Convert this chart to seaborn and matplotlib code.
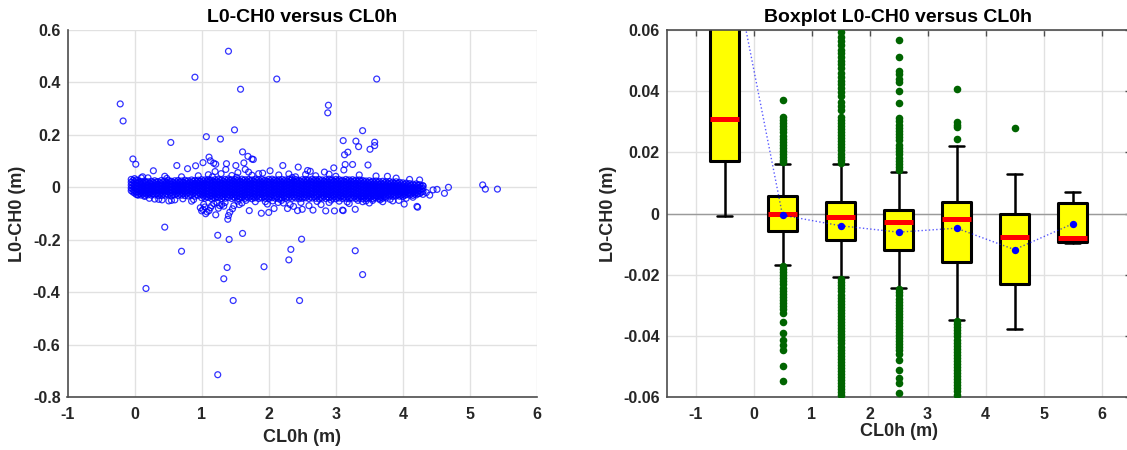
import numpy as np
import pandas as pd
import matplotlib
matplotlib.use("Agg")
import matplotlib.pyplot as plt
import seaborn as sns

# ---------------- Left panel data (CL0h, L0-CH0) ----------------
# dense central band: one column of readings per CL0h position (values in mm)
band_x = [-0.05, 0.00, 0.05, 0.10, 0.15, 0.20, 0.25, 0.30, 0.35, 0.40,
          0.45, 0.50, 0.55, 0.60, 0.65, 0.70, 0.75, 0.80, 0.85, 0.90,
          0.95, 1.00, 1.05, 1.10, 1.15, 1.20, 1.25, 1.30, 1.35, 1.40,
          1.45, 1.50, 1.55, 1.60, 1.65, 1.70, 1.75, 1.80, 1.85, 1.90,
          1.95, 2.00, 2.05, 2.10, 2.15, 2.20, 2.25, 2.30, 2.35, 2.40,
          2.45, 2.50, 2.55, 2.60, 2.65, 2.70, 2.75, 2.80, 2.85, 2.90,
          2.95, 3.00, 3.05, 3.10, 3.15, 3.20, 3.25, 3.30, 3.35, 3.40,
          3.45, 3.50, 3.55, 3.60, 3.65, 3.70, 3.75, 3.80, 3.85, 3.90,
          3.95, 4.00, 4.05, 4.10, 4.15, 4.20, 4.25, 4.30]
band_y_mm = [
    [30, 19, 8, -3, -13], [33, 21, 10, -1, -12, -22], [26, 15, 4, -7, -18, -28],
    [22, 12, 1, -10, -20, -30], [24, 13, 2, -9, -21, -31], [21, 10, 0, -11, -22, -29],
    [23, 12, 2, -8, -19, -30], [25, 15, 4, -7, -18, -29], [22, 11, 1, -10, -21, -31],
    [26, 14, 3, -8, -20, -32], [24, 13, 2, -9, -19, -30], [27, 16, 5, -6, -17, -28],
    [23, 12, 1, -10, -21, -33], [25, 14, 4, -7, -18, -29], [26, 15, 3, -9, -20, -31],
    [24, 13, 2, -8, -19, -30], [27, 16, 5, -6, -18, -32], [25, 14, 3, -9, -21, -33],
    [28, 17, 6, -5, -17, -29], [26, 15, 4, -8, -20, -34], [27, 16, 5, -7, -19, -31],
    [29, 18, 7, -5, -16, -28, -40], [28, 17, 5, -7, -19, -31, -42], [30, 19, 8, -4, -15, -27, -39],
    [27, 16, 4, -8, -20, -32, -44], [29, 18, 6, -6, -18, -30, -41], [31, 20, 8, -4, -16, -28, -40],
    [28, 16, 5, -7, -19, -31, -43], [30, 18, 7, -5, -17, -29, -42], [32, 20, 9, -3, -15, -27, -39],
    [29, 17, 6, -6, -18, -30, -43], [30, 19, 7, -5, -17, -29, -41], [28, 17, 5, -7, -19, -31, -44],
    [31, 19, 8, -4, -16, -28, -40], [29, 18, 6, -6, -18, -30, -42], [30, 18, 7, -5, -17, -29, -41],
    [28, 16, 5, -7, -19, -32, -44], [31, 19, 8, -4, -16, -28, -40], [29, 17, 6, -6, -18, -30, -43],
    [30, 19, 7, -5, -17, -29, -41], [27, 16, 4, -8, -20, -32, -42], [30, 18, 7, -5, -17, -30, -43],
    [31, 20, 8, -4, -16, -28, -40], [28, 17, 5, -7, -19, -31, -42], [29, 18, 6, -6, -18, -30, -44],
    [30, 19, 7, -5, -17, -29, -41], [28, 16, 5, -7, -19, -31, -43], [31, 19, 8, -4, -16, -28, -40],
    [29, 17, 6, -6, -18, -30, -42], [30, 18, 7, -5, -17, -29, -41], [27, 16, 4, -8, -20, -32, -44],
    [29, 18, 6, -6, -18, -30, -42], [30, 19, 7, -5, -17, -29, -40], [28, 17, 5, -7, -19, -31, -43],
    [31, 19, 8, -4, -16, -28, -41], [29, 17, 6, -6, -18, -30, -42], [30, 18, 7, -5, -17, -29, -44],
    [28, 16, 5, -7, -19, -31, -41], [29, 18, 6, -6, -18, -30, -43], [31, 20, 8, -4, -16, -28, -40],
    [28, 17, 5, -7, -19, -31, -42], [30, 18, 7, -5, -17, -29, -44], [29, 17, 6, -6, -18, -30, -41],
    [27, 16, 4, -8, -20, -32, -43], [30, 19, 7, -5, -17, -29, -42], [28, 17, 5, -7, -19, -31, -44],
    [29, 18, 6, -6, -18, -30, -41], [27, 16, 4, -8, -20, -32, -43], [28, 17, 5, -7, -19, -31, -42],
    [26, 15, 3, -9, -21, -33, -44], [24, 13, 2, -9, -21, -32, -43], [25, 14, 3, -8, -20, -31, -42],
    [23, 12, 1, -10, -22, -33, -44], [24, 13, 2, -9, -21, -32, -41], [22, 11, 0, -11, -22, -33, -43],
    [23, 12, 1, -10, -21, -32, -42], [21, 10, -1, -12, -23, -34, -41], [22, 11, 0, -11, -22, -33],
    [20, 9, -2, -13, -24, -35], [21, 10, -1, -12, -23, -33], [19, 8, -3, -14, -25, -34],
    [17, 6, -5, -16, -27, -36], [16, 5, -6, -17, -28], [14, 3, -8, -19, -30],
    [12, 1, -10, -21, -31], [13, 2, -9, -20, -29], [10, -1, -12, -24], [6, -5, -16, -27],
]
# second, staggered set of band columns (values in mm)
band2_x = [-0.025, 0.025, 0.075, 0.125, 0.175, 0.225, 0.275, 0.325, 0.375, 0.425,
           0.475, 0.525, 0.575, 0.625, 0.675, 0.725, 0.775, 0.825, 0.875, 0.925,
           0.975, 1.025, 1.075, 1.125, 1.175, 1.225, 1.275, 1.325, 1.375, 1.425,
           1.475, 1.525, 1.575, 1.625, 1.675, 1.725, 1.775, 1.825, 1.875, 1.925,
           1.975, 2.025, 2.075, 2.125, 2.175, 2.225, 2.275, 2.325, 2.375, 2.425,
           2.475, 2.525, 2.575, 2.625, 2.675, 2.725, 2.775, 2.825, 2.875, 2.925,
           2.975, 3.025, 3.075, 3.125, 3.175, 3.225, 3.275, 3.325, 3.375, 3.425,
           3.475, 3.525, 3.575, 3.625, 3.675, 3.725, 3.775, 3.825, 3.875, 3.925,
           3.975, 4.025, 4.075, 4.125, 4.175, 4.225, 4.275]
band2_y_mm = [
    [26, 14, 3, -8, -18], [28, 16, 5, -6, -17, -27], [20, 9, -2, -13, -24],
    [17, 6, -5, -15, -25], [19, 8, -4, -15, -26], [16, 5, -6, -16, -25],
    [18, 7, -3, -14, -24], [20, 10, -1, -12, -24], [17, 6, -4, -15, -26],
    [21, 9, -2, -14, -26], [19, 8, -3, -14, -25], [22, 11, 0, -11, -23],
    [18, 7, -4, -15, -27], [20, 9, -1, -12, -24], [21, 10, -2, -14, -26],
    [19, 8, -3, -13, -25], [22, 11, 0, -12, -25], [20, 9, -3, -15, -27],
    [23, 12, 1, -11, -23], [21, 10, -2, -14, -27], [22, 11, 0, -13, -25],
    [24, 13, 1, -11, -22, -34], [23, 11, -1, -13, -25, -37], [25, 14, 2, -10, -21, -33],
    [22, 10, -2, -14, -26, -38], [24, 12, 0, -12, -24, -36], [26, 14, 2, -10, -22, -34],
    [23, 11, -1, -13, -25, -37], [25, 13, 1, -11, -23, -35], [27, 15, 3, -9, -21, -33],
    [24, 12, 0, -12, -24, -37], [25, 13, 1, -11, -23, -35], [23, 11, -1, -13, -25, -38],
    [26, 14, 2, -10, -22, -34], [24, 12, 0, -12, -24, -36], [25, 13, 1, -11, -23, -35],
    [23, 11, -1, -13, -26, -38], [26, 14, 2, -10, -22, -34], [24, 12, 0, -12, -24, -37],
    [25, 13, 1, -11, -23, -35], [22, 10, -2, -14, -26, -37], [25, 13, 1, -11, -24, -36],
    [26, 14, 2, -10, -22, -34], [23, 11, -1, -13, -25, -36], [24, 12, 0, -12, -24, -38],
    [25, 13, 1, -11, -23, -35], [23, 11, -1, -13, -25, -37], [26, 14, 2, -10, -22, -34],
    [24, 12, 0, -12, -24, -36], [25, 13, 1, -11, -23, -35], [22, 10, -2, -14, -26, -38],
    [24, 12, 0, -12, -24, -36], [25, 13, 1, -11, -23, -34], [23, 11, -1, -13, -25, -37],
    [26, 14, 2, -10, -22, -35], [24, 12, 0, -12, -24, -36], [25, 13, 1, -11, -23, -38],
    [23, 11, -1, -13, -25, -35], [24, 12, 0, -12, -24, -37], [26, 14, 2, -10, -22, -34],
    [23, 11, -1, -13, -25, -36], [25, 13, 1, -11, -23, -38], [24, 12, 0, -12, -24, -35],
    [22, 10, -2, -14, -26, -37], [25, 13, 1, -11, -23, -36], [23, 11, -1, -13, -25, -38],
    [24, 12, 0, -12, -24, -35], [22, 10, -2, -14, -26, -37], [23, 11, -1, -13, -25, -36],
    [21, 9, -3, -15, -27, -38], [18, 7, -4, -15, -26, -37], [19, 8, -3, -14, -25, -36],
    [17, 6, -5, -16, -27, -38], [18, 7, -4, -15, -26, -35], [16, 5, -6, -17, -28, -38],
    [17, 6, -5, -16, -27, -37], [15, 4, -7, -18, -29], [16, 5, -6, -17, -28],
    [14, 3, -8, -19, -29], [15, 4, -7, -18, -28], [13, 2, -9, -20, -30],
    [11, 0, -11, -22, -31], [10, -1, -12, -23], [8, -3, -14, -25],
    [7, -4, -15, -26], [8, -3, -14, -24], [4, -7, -19],
]

# scattered points just around the band
halo_x = [0.28, 0.63, 0.91, 0.79, 1.02, 1.18, 1.21, 1.37, 1.51, 1.63,
          2.21, 2.44, 3.48, 3.25, 3.14, 2.97, 3.12, 1.65, 1.36, 1.54,
          2.02, 2.30, 2.58, 2.62, 2.83, 2.90, 3.77, 1.85, 1.91, 1.20,
          2.55, 0.12, 0.45, 1.10, 1.45, 1.75, 2.70, 3.35, 3.60, 4.25,
          0.95, 2.15, 1.29, 1.70, 2.40, 3.00, 3.90, 0.70, 0.20, 4.10,
          0.41, 0.51, 0.72, 0.85, 1.23, 1.54, 1.98, 2.14, 2.28, 2.37,
          2.78, 1.39, 1.40, 1.21, 1.06, 1.00, 1.11, 1.46, 1.71, 1.89,
          2.00, 2.08, 2.43, 2.50, 2.66, 2.85, 2.98, 3.10, 3.11, 3.29,
          4.21, 4.22, 4.02, 3.94, 4.62, 4.68, 4.51, 5.19, 5.23, 5.41,
          1.05, 1.15, 1.30, 1.60, 0.30, 0.60, 3.50, 3.70, 3.85, 4.40,
          4.35, 0.15, 0.05, 2.60, 3.20, 1.95, 0.98, 1.02, 1.25, 1.33,
          1.18, 1.42, 1.08, 2.32, 2.90, 3.40, 4.45, 4.30, 1.48, 2.22,
          0.22, 0.36, 0.55, 0.88, 1.03, 1.13, 1.27, 1.35, 1.56, 1.66,
          1.80, 2.06, 2.19, 2.48, 2.72, 2.93, 3.05, 3.17, 3.33, 3.45,
          3.55, 3.66, 3.81, 4.05, 4.15, 0.10, 0.48, 1.16, 1.52, 2.35]
halo_y = [0.063, 0.083, 0.082, 0.071, 0.094, 0.092, 0.088, 0.090, 0.083, 0.093,
          0.083, 0.077, 0.085, 0.087, 0.087, 0.074, 0.066, 0.068, 0.068, 0.056,
          0.063, 0.051, 0.064, 0.061, 0.058, 0.050, 0.042, 0.052, 0.054, 0.060,
          0.049, 0.040, 0.042, 0.048, 0.045, 0.046, 0.044, 0.047, 0.043, 0.028,
          0.044, 0.047, 0.052, 0.058, 0.040, 0.042, 0.035, 0.040, 0.036, 0.030,
          -0.048, -0.052, -0.044, -0.053, -0.058, -0.053, -0.064, -0.058, -0.081, -0.073,
          -0.066, -0.122, -0.108, -0.105, -0.101, -0.090, -0.089, -0.082, -0.089, -0.099,
          -0.096, -0.081, -0.089, -0.084, -0.087, -0.090, -0.090, -0.087, -0.089, -0.084,
          -0.073, -0.076, -0.064, -0.050, -0.023, 0.000, -0.008, 0.009, -0.007, -0.007,
          -0.075, -0.070, -0.066, -0.060, -0.045, -0.048, -0.060, -0.055, -0.052, -0.030,
          -0.020, -0.035, -0.030, -0.070, -0.062, -0.055, -0.078, -0.085, -0.080, -0.072,
          -0.062, -0.095, -0.094, -0.066, -0.058, -0.055, -0.010, 0.005, -0.070, -0.060,
          -0.042, -0.046, -0.050, -0.047, -0.065, -0.078, -0.070, -0.058, -0.066, -0.050,
          -0.055, -0.052, -0.050, -0.058, -0.054, -0.049, -0.053, -0.056, -0.050, -0.052,
          -0.050, -0.048, -0.046, -0.042, -0.038, 0.036, 0.034, 0.040, 0.038, 0.037]

# far outliers
far_x = [-0.214, -0.171, -0.025, 0.018, 0.90, 1.07, 1.28, 0.54, 1.40, 1.58,
         1.49, 2.12, 3.61, 2.89, 2.88, 3.40, 3.11, 3.30, 3.58, 3.58,
         3.34, 3.51, 3.18, 3.13, 1.61, 1.11, 1.13, 1.69, 1.75, 1.77,
         0.45, 0.70, 0.17, 1.24, 1.41, 1.61, 1.38, 1.33, 1.47, 1.24,
         1.93, 2.33, 2.30, 2.49, 2.46, 3.29, 3.40]
far_y = [0.318, 0.253, 0.108, 0.088, 0.420, 0.193, 0.184, 0.171, 0.519, 0.374,
         0.219, 0.413, 0.413, 0.313, 0.284, 0.216, 0.178, 0.176, 0.172, 0.159,
         0.155, 0.145, 0.134, 0.124, 0.135, 0.115, 0.101, 0.118, 0.108, 0.106,
         -0.152, -0.244, -0.386, -0.183, -0.199, -0.176, -0.306, -0.349, -0.432, -0.715,
         -0.303, -0.237, -0.277, -0.198, -0.432, -0.242, -0.333]

# ---------------- Right panel data (box statistics, mm) ----------------
box_centers = [-0.5, 0.5, 1.5, 2.5, 3.5, 4.5, 5.5]
box_med = [30.8, 0.0, -1.3, -2.9, -1.9, -7.7, -8.1]
box_q1 = [17.3, -5.8, -8.8, -11.8, -15.7, -22.9, -9.3]
box_q3 = [100.0, 5.8, 3.6, 1.0, 3.8, 0.0, 3.4]
box_lo = [-0.8, -16.7, -20.9, -24.2, -34.9, -37.8, -9.5]
box_hi = [318.0, 16.3, 16.1, 13.7, 22.1, 12.9, 7.1]
box_mean = [95.6, -0.55, -4.0, -6.1, -4.8, -11.8, -3.4]

flier_b2 = [37.0, 31.5, 30.5, 29.5, 28.5, 27.5, 26.5, 25.5, 24.5, 23.5, 22.5, 21.5,
            20.5, 19.5, 18.5, 17.5, 16.8,
            -17.2, -18.2, -19.2, -20.2, -21.2, -22.2, -23.2, -24.2, -25.2, -26.2,
            -27.2, -28.2, -29.2, -30.2, -31.2, -32.4, -35.4, -39.0, -41.4, -43.0,
            -44.7, -50.0, -54.8]
flier_b3 = [16.6, 17.6, 18.6, 19.6, 20.6, 21.6, 22.6, 23.6, 24.6, 25.6, 26.6, 27.6,
            28.6, 29.6, 30.6, 31.4, 34.0, 35.2, 36.6, 38.4, 39.8, 41.0, 42.2, 43.4,
            44.6, 45.8, 47.6, 48.8, 50.0, 51.2, 52.4, 53.6, 55.0, 56.4, 57.8, 59.3,
            -21.5, -22.5, -23.5, -24.5, -25.5, -26.5, -27.5, -28.5, -29.5, -30.5,
            -31.5, -32.5, -33.5, -34.5, -35.5, -36.5, -37.5, -38.5, -39.5, -40.5,
            -41.5, -42.5, -43.5, -44.5, -45.5, -46.5, -47.5, -48.5, -49.5, -50.5,
            -51.5, -52.5, -53.5, -54.5, -55.5, -56.5, -57.5, -58.5, -59.5]
flier_b4 = [56.7, 51.2, 46.5, 45.5, 44.0, 43.0, 40.1, 36.0, 31.1, 30.1, 29.1, 28.1,
            27.1, 26.1, 25.1, 24.1, 22.3, 21.3, 20.3, 19.3, 18.3, 17.3, 16.3, 15.3,
            14.3,
            -24.8, -25.8, -26.8, -27.8, -28.8, -29.8, -30.8, -31.8, -32.8, -33.8,
            -34.8, -35.8, -36.8, -37.8, -38.8, -39.8, -40.8, -41.8, -42.8, -43.8,
            -44.7, -46.0, -48.0, -51.2, -53.8, -55.5, -58.6]
flier_b5 = [40.6, 30.0, 29.0, 28.3, 24.5,
            -35.2, -36.2, -37.2, -38.2, -39.2, -40.2, -41.2, -42.2, -43.2, -44.2,
            -45.2, -46.2, -47.2, -48.2, -49.2, -50.2, -51.2, -52.2, -53.2, -54.2,
            -55.2, -56.2, -57.2, -58.2, -59.4]
flier_b6 = [28.1]
fliers = [[], flier_b2, flier_b3, flier_b4, flier_b5, flier_b6, []]

xticks_l = [-1, 0, 1, 2, 3, 4, 5, 6]
yticks_l = [-0.8, -0.6, -0.4, -0.2, 0.0, 0.2, 0.4, 0.6]
ylabels_l = ["-0.8", "-0.6", "-0.4", "-0.2", "0", "0.2", "0.4", "0.6"]
xticks_r = [-1, 0, 1, 2, 3, 4, 5, 6]
yticks_r = [-0.06, -0.04, -0.02, 0.0, 0.02, 0.04, 0.06]
ylabels_r = ["-0.06", "-0.04", "-0.02", "0", "0.02", "0.04", "0.06"]

# ---------------- build frames ----------------
bx, by = [], []
for xs, cols in ((band_x, band_y_mm), (band2_x, band2_y_mm)):
    for x, col in zip(xs, cols):
        for v in col:
            bx.append(x)
            by.append(v / 1000.0)
scatter_df = pd.DataFrame({
    "CL0h": bx + halo_x + far_x,
    "L0CH0": by + halo_y + far_y,
})

fx, fy = [], []
for c, vals in zip(box_centers, fliers):
    for v in vals:
        fx.append(c)
        fy.append(v / 1000.0)
flier_df = pd.DataFrame({"pos": fx, "val": fy})
mean_df = pd.DataFrame({"pos": box_centers, "mean": [m / 1000.0 for m in box_mean]})

# ---------------- style ----------------
sns.set_theme(style="white")
plt.rcParams["font.family"] = ["Liberation Sans", "DejaVu Sans"]
plt.rcParams["font.weight"] = "bold"
plt.rcParams["axes.labelweight"] = "bold"
plt.rcParams["axes.titleweight"] = "bold"

TXT = "#262626"
GRID = "#e1e1e1"
SPINE = "#4d4d4d"

fig = plt.figure(figsize=(11.27, 4.5), dpi=100)
ax1 = fig.add_axes([67.5 / 1127, 53 / 450, 469.5 / 1127, 367 / 450])
ax2 = fig.add_axes([666.5 / 1127, 53 / 450, 464 / 1127, 367 / 450])

for ax in (ax1, ax2):
    ax.set_facecolor("white")
    ax.grid(True, color=GRID, linewidth=1.0)
    ax.set_axisbelow(True)
    ax.tick_params(direction="in", length=4, width=1, color=SPINE,
                   labelcolor=TXT, labelsize=11.5)
    ax.tick_params(axis="x", pad=7)
    ax.tick_params(axis="y", pad=5)
    for s in ax.spines.values():
        s.set_color(SPINE)
        s.set_linewidth(1.2)

# ---------------- left: scatter ----------------
sns.scatterplot(data=scatter_df, x="CL0h", y="L0CH0", ax=ax1, marker="o", s=18,
                facecolor="none", edgecolor="blue", linewidth=0.9, alpha=0.8,
                legend=False)
ax1.set_xlim(-1, 6)
ax1.set_ylim(-0.8, 0.6)
ax1.set_xticks(xticks_l)
ax1.set_xticklabels([str(t) for t in xticks_l])
ax1.set_yticks(yticks_l)
ax1.set_yticklabels(ylabels_l)
ax1.spines["top"].set_visible(False)
ax1.spines["right"].set_visible(False)
ax1.set_title("L0-CH0 versus CL0h", fontsize=14, color="black", pad=6)
ax1.set_xlabel("CL0h (m)", fontsize=13, color=TXT)
ax1.set_ylabel("L0-CH0 (m)", fontsize=13, color=TXT)
ax1.xaxis.set_label_coords(0.5, -0.088)
ax1.yaxis.set_label_coords(-0.088, 0.5)

# ---------------- right: boxplot ----------------
ax2.axhline(0, color="#9a9a9a", linewidth=1.0, zorder=1)
stats = []
for med, q1, q3, lo, hi, mn in zip(box_med, box_q1, box_q3, box_lo, box_hi, box_mean):
    stats.append(dict(med=med / 1000, q1=q1 / 1000, q3=q3 / 1000,
                      whislo=lo / 1000, whishi=hi / 1000, mean=mn / 1000, fliers=[]))
ax2.bxp(stats, positions=box_centers, widths=0.5, capwidths=0.25,
        showfliers=False, showmeans=False, patch_artist=True, manage_ticks=False,
        boxprops=dict(facecolor="#ffff00", edgecolor="black", linewidth=2.2,
                      joinstyle="round"),
        medianprops=dict(color="#ff0000", linewidth=3.6, solid_capstyle="butt"),
        whiskerprops=dict(color="black", linewidth=1.8),
        capprops=dict(color="black", linewidth=1.8), zorder=2)
sns.scatterplot(data=flier_df, x="pos", y="val", ax=ax2, color="#006400", s=30,
                linewidth=0, legend=False, zorder=3)
sns.lineplot(data=mean_df, x="pos", y="mean", ax=ax2, color="blue", linestyle=":",
             linewidth=1.0, alpha=0.65, estimator=None, legend=False, zorder=4)
sns.scatterplot(data=mean_df, x="pos", y="mean", ax=ax2, color="blue", s=28,
                linewidth=0, legend=False, zorder=5)
ax2.set_xlim(-1.5, 6.5)
ax2.set_ylim(-0.06, 0.06)
ax2.set_xticks(xticks_r)
ax2.set_xticklabels([str(t) for t in xticks_r])
ax2.set_yticks(yticks_r)
ax2.set_yticklabels(ylabels_r)
ax2.tick_params(top=True, right=True)
ax2.set_title("Boxplot L0-CH0 versus CL0h", fontsize=14, color="black", pad=6)
ax2.set_xlabel("CL0h (m)", fontsize=13, color=TXT)
ax2.set_ylabel("L0-CH0 (m)", fontsize=13, color=TXT)
ax2.xaxis.set_label_coords(0.5, -0.07)
ax2.yaxis.set_label_coords(-0.107, 0.5)

fig.savefig("out.png", dpi=100)
